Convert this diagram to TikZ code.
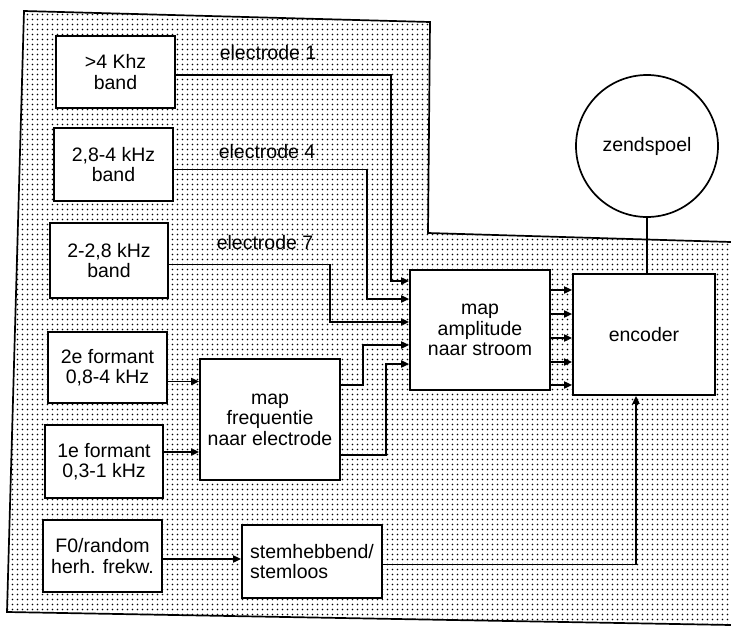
\documentclass[tikz,border=0pt]{standalone}
\usepackage{fontspec}
\setmainfont{Liberation Sans}
\usetikzlibrary{arrows.meta,patterns}
\pgfdeclarepatternformonly{scandots}{\pgfpoint{-1pt}{-1pt}}{\pgfpoint{6pt}{6pt}}{\pgfpoint{5pt}{5pt}}{\pgfpathcircle{\pgfpoint{2.5pt}{2.5pt}}{0.9pt}\pgfusepath{fill}}
\begin{document}
\begin{tikzpicture}[x=1pt,y=-1pt,line width=1.7pt,
  box/.style={draw,fill=white,rectangle,align=center,inner sep=2pt,font=\fontsize{19.5}{20.5}\selectfont},
  arr/.style={-{Triangle[length=8pt,width=7pt]}},
  lbl/.style={font=\fontsize{19.5}{20.5}\selectfont,inner sep=1pt}]
\useasboundingbox (0,0) rectangle (731,627);
% dotted background area
\fill[pattern=scandots] (24,11) -- (430,22) -- (428,233) -- (731,242) -- (731,625) -- (7,612) -- cycle;
\draw (731,625) -- (7,612) -- (24,11) -- (430,22) -- (428,233) -- (731,242);

% input boxes
\node[box,minimum width=119pt,minimum height=72pt] (n1) at (115.5,72) {>4 Khz\\band};
\node[box,minimum width=119pt,minimum height=73pt] (n2) at (113.5,164.5) {2,8-4 kHz\\band};
\node[box,minimum width=118pt,minimum height=75pt] (n3) at (109,260.5) {2-2,8 kHz\\band};
\node[box,minimum width=119pt,minimum height=71pt] (n4) at (107.5,367.5) {2e formant\\0,8-4 kHz};
\node[box,minimum width=118pt,minimum height=73pt] (n5) at (104,461.5) {1e formant\\0,3-1 kHz};
\node[box,minimum width=119pt,minimum height=72pt] (n6) at (102.5,556) {F0/random\\herh. frekw.};

% processing boxes
\node[box,minimum width=140pt,minimum height=121pt] (mf) at (270,419.5) {map\\frequentie\\naar electrode};
\node[box,minimum width=140pt,minimum height=73pt,align=left] (sv) at (312,561.5) {stemhebbend/\\stemloos};
\node[box,minimum width=140pt,minimum height=120pt] (ma) at (480,330) {map\\amplitude\\naar stroom};
\node[box,minimum width=142pt,minimum height=121pt] (enc) at (644,334.5) {encoder};
\node[box,circle,minimum size=142pt] (zs) at (647,146) {zendspoel};

% labels
\node[lbl] (l1) at (268,53) {electrode 1};
\node[lbl] (l4) at (267,152) {electrode 4};
\node[lbl] (l7) at (265,243) {electrode 7};

% connectors into map amplitude
\draw[arr] ([yshift=-3pt]n1.east) -| (391,281) -- ([yshift=49pt]ma.west);
\draw[arr] ([yshift=-5pt]n2.east) -| (367,299) -- ([yshift=31pt]ma.west);
\draw[arr] ([yshift=-4pt]n3.east) -| (330,322) -- ([yshift=8pt]ma.west);
\draw[arr] ([yshift=34.5pt]mf.east) -| (363,345) -- ([yshift=-15pt]ma.west);
\draw[arr] ([yshift=-35.5pt]mf.east) -| (386,364) -- ([yshift=-34pt]ma.west);

% formants into map frequentie
\draw[arr] ([yshift=-14pt]n4.east) -- ([yshift=-14pt]n4.east -| mf.west);
\draw[arr] ([yshift=9.5pt]n5.east) -- ([yshift=9.5pt]n5.east -| mf.west);
\draw[arr] ([yshift=-3pt]n6.east) -- ([yshift=-3pt]n6.east -| sv.west);

% map amplitude to encoder
\foreach \dy in {40,16,-8,-32,-55}
  \draw[arr] ([yshift=\dy pt]ma.east) -- ([yshift=\dy pt]ma.east -| enc.west);

% stemhebbend to encoder
\draw[arr] ([yshift=-3pt]sv.east) -| ([xshift=-8pt]enc.south);

% zendspoel to encoder
\draw (zs.south) -- (zs.south |- enc.north);
\end{tikzpicture}
\end{document}
